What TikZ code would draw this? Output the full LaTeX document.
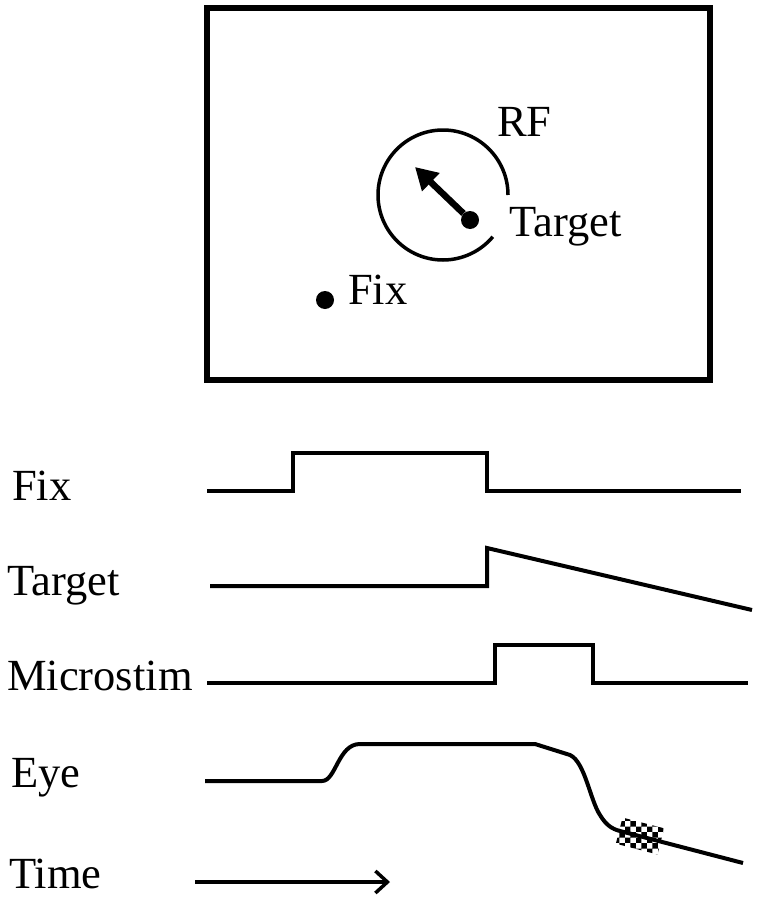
\documentclass[tikz,border=0pt]{standalone}
\usepackage{fontspec}
\setmainfont{Liberation Serif}
\usepackage{tikz}
\usetikzlibrary{arrows.meta, patterns}

\begin{document}
\begin{tikzpicture}[x=1pt, y=-1pt]
    \tikzstyle{lbl} = [font=\fontsize{44.5}{50}\selectfont, inner sep=0pt]
    \tikzstyle{trace} = [line width=4pt, line join=miter]
    \tikzstyle{dot} = [circle, fill=black, inner sep=0pt, minimum size=18pt]
    \useasboundingbox (0,0) rectangle (760,899);
    % screen with RF, fixation and target
    \draw[line width=6pt] (207,8) rectangle (710,380);
    \draw[line width=3.5pt] (508,195) arc[start angle=0, end angle=320, radius=65pt];
    \node[dot](TGT) at (470,220) {};
    \node[dot](FIX) at (325,300) {};
    \coordinate (SAC) at (415,167);
    \draw[line width=6.5pt, -{Triangle[width=24pt,length=22pt]}] (TGT.north west) -- (SAC);
    \node[lbl, anchor=base west](RF) at (497,136) {RF};
    \node[lbl, anchor=base west](TGTL) at (509,236) {Target};
    \node[lbl, anchor=base west](FIXL) at (348,304) {Fix};
    % timing traces
    \node[lbl, anchor=base west](FixT) at (12,500) {Fix};
    \node[lbl, anchor=base west](TgtT) at (7,595) {Target};
    \node[lbl, anchor=base west](StimT) at (7,690) {Microstim};
    \node[lbl, anchor=base west](EyeT) at (11,787) {Eye};
    \node[lbl, anchor=base west](TimeT) at (9,888) {Time};
    \draw[trace] (207,491) -- (293,491) -- (293,453) -- (487,453) -- (487,491) -- (741,491);
    \draw[trace] (210,586) -- (487,586) -- (487,548) -- (752,610);
    \draw[trace] (207,683) -- (495,683) -- (495,645) -- (593,645) -- (593,683) -- (748,683);
    \node[pattern=checkerboard, rotate=-14.5, minimum width=43pt, minimum height=27pt, inner sep=0pt](STIM) at (640,836) {};
    \draw[trace] (205,781) -- (322,781) .. controls (336,781) and (338,744) .. (360,744) -- (535,744) -- (570,755)
        .. controls (585,762) and (590,800) .. (600,815) .. controls (606,825) and (612,829) .. (620,831) -- (743,863);
    \coordinate (T0) at (195,882);
    \coordinate (T1) at (390,882);
    \draw[line width=3.5pt, -{Straight Barb[length=12pt,width=22pt]}] (T0) -- (T1);
\end{tikzpicture}
\end{document}
